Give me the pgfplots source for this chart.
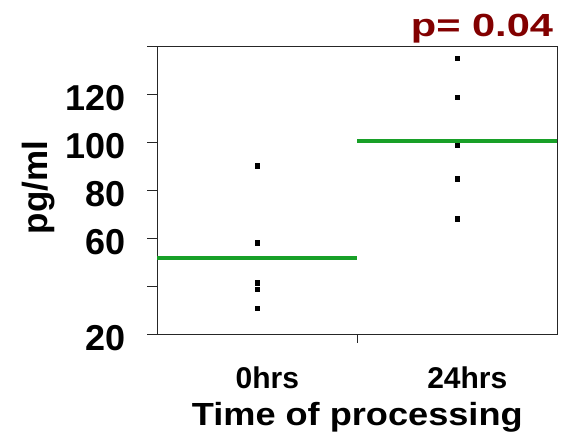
\documentclass[border=0pt]{standalone}
\usepackage{fontspec}
\setmainfont{Liberation Sans}
\usepackage{pgfplots}
\pgfplotsset{compat=1.18}
\usetikzlibrary{calc}
\definecolor{grn}{RGB}{24,160,40}
\definecolor{pred}{RGB}{130,0,0}
\begin{document}
\begin{tikzpicture}
\begin{axis}[
  name=ax,
  scale only axis,
  width=400pt, height=288.3pt,
  xmin=-0.5, xmax=1.5,
  ymin=20, ymax=140,
  axis line style={line width=1pt, black!85},
  tick align=outside,
  major tick length=10pt,
  tick style={line width=1pt, black!85},
  ytick={20,40,60,80,100,120,140},
  yticklabels={20,,60,80,100,120,},
  xtick={0,1},
  xticklabels={0hrs,24hrs},
  xtick style={draw=none},
  extra x ticks={0.5},
  extra x tick labels={},
  extra x tick style={xtick style={draw=black!85, line width=1pt}, major tick length=8pt},
  ytick pos=left,
  xtick pos=bottom,
  /pgf/number format/assume math mode=true,
  yticklabel style={font=\fontsize{36}{36}\selectfont\bfseries, anchor=east, inner sep=0pt, xshift=-22pt, yshift=-3pt},
  xticklabel style={font=\fontsize{30}{30}\selectfont\bfseries, anchor=base, inner sep=0pt, xshift=10pt, yshift=-43pt},
  xlabel={\scalebox{1.13}[1]{\fontsize{32}{32}\selectfont\bfseries Time of processing}},
  xlabel style={at={(rel axis cs:0.5,0)}, anchor=base, inner sep=0pt, yshift=-90pt},
  ylabel={\fontsize{35}{35}\selectfont\bfseries pg/ml},
  ylabel style={at={(rel axis cs:-0.25575,0.5116)}, anchor=south, inner sep=0pt},
  clip=false,
]
\addplot[only marks, mark=square*, mark size=2.2pt, black] coordinates {
  (0,90.5) (0,58.4) (0,41.7) (0,39.1) (0,31.1)
  (1,135.2) (1,119.1) (1,99.1) (1,85.1) (1,68.4)
};
\addplot[grn, line width=4pt] coordinates {(-0.5,52.1) (0.5,52.1)};
\addplot[grn, line width=4pt] coordinates {(0.5,100.9) (1.5,100.9)};
\node[anchor=base east, inner sep=0pt, text=pred, font=\fontsize{32}{32}\selectfont\bfseries]
  at ($(rel axis cs:1,1)+(-4pt,9.7pt)$) {\scalebox{1.3}[1]{p= 0.04}};
\end{axis}
\pgfresetboundingbox
\path ($(ax.south west)+(-157.3pt,-103pt)$) rectangle ($(ax.north east)+(9.7pt,46.7pt)$);
\end{tikzpicture}
\end{document}
